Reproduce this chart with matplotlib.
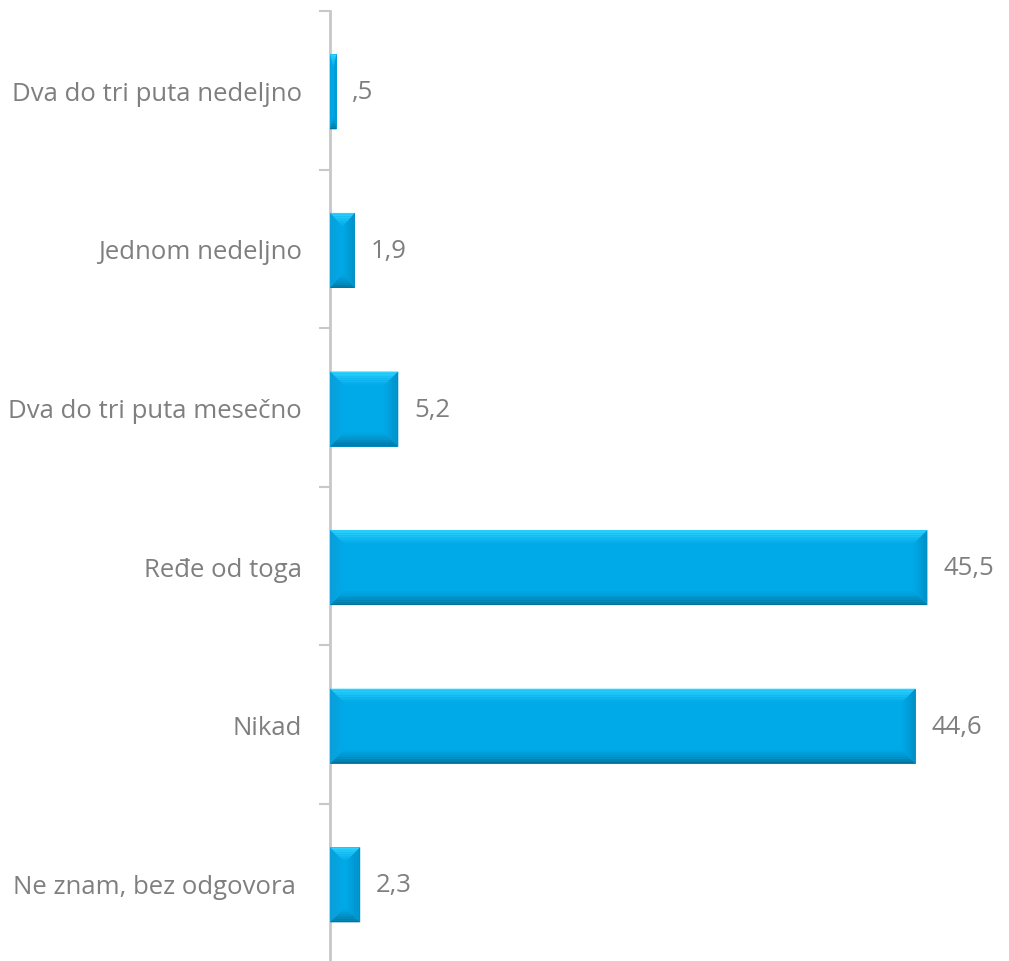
#!/usr/bin/env python3

import numpy as np
from matplotlib import pyplot as plt
from matplotlib.patches import Polygon, Rectangle
from matplotlib.colors import to_rgb

categories = ["Dva do tri puta nedeljno", "Jednom nedeljno", "Dva do tri puta mesečno",
              "Ređe od toga", "Nikad", "Ne znam, bez odgovora "]
values = [0.5, 1.9, 5.2, 45.5, 44.6, 2.3]
value_labels = [",5", "1,9", "5,2", "45,5", "44,6", "2,3"]

plt.rcParams['font.family'] = ['Open Sans', 'DejaVu Sans']

fig = plt.figure(figsize=(10.09, 9.62), dpi=100)
step = 158.6
ax_h = 6 * step
ax = fig.add_axes([330 / 1009, (962 - 12 - ax_h) / 962, 670 / 1009, ax_h / 962])

px_x = 13.13  # pixels per data unit
xmax = 670 / px_x
ax.set_xlim(0, xmax)
ax.set_ylim(len(categories) - 0.5, -0.5)

bar_h = 75 / step
main = np.array(to_rgb("#00A9E8"))
edges = {
    "top": np.array(to_rgb("#30D4FF")),
    "bot": np.array(to_rgb("#00698F")),
    "left": np.array(to_rgb("#0A9ED8")),
    "right": np.array(to_rgb("#008DC2")),
}

bx = 14 / px_x
by = 14 / step
nband = 8


def mix(c, t):
    return tuple(c * (1 - t) + main * t)


for i, v in enumerate(values):
    yc = i + 1.5 / step
    y0 = yc - bar_h / 2
    y1 = yc + bar_h / 2
    dx = min(bx, v / 2)
    ax.add_patch(Rectangle((0, y0), v, bar_h, color=tuple(main), lw=0, zorder=3))
    for k in range(nband):
        a = k / nband
        b = (k + 1) / nband
        t = (a + b) / 2
        xa, xb = dx * a, dx * b
        ya, yb = by * a, by * b
        # top (inverted axis: y0 is the visual top)
        ax.add_patch(Polygon([(xa, y0 + ya), (v - xa, y0 + ya), (v - xb, y0 + yb), (xb, y0 + yb)],
                             closed=True, color=mix(edges["top"], t), lw=0, zorder=4))
        ax.add_patch(Polygon([(xa, y1 - ya), (v - xa, y1 - ya), (v - xb, y1 - yb), (xb, y1 - yb)],
                             closed=True, color=mix(edges["bot"], t ** 0.7), lw=0, zorder=4))
        ax.add_patch(Polygon([(xa, y0 + ya), (xb, y0 + yb), (xb, y1 - yb), (xa, y1 - ya)],
                             closed=True, color=mix(edges["left"], t), lw=0, zorder=4))
        ax.add_patch(Polygon([(v - xa, y0 + ya), (v - xb, y0 + yb), (v - xb, y1 - yb), (v - xa, y1 - ya)],
                             closed=True, color=mix(edges["right"], t), lw=0, zorder=4))
    ax.text(v + 1.2, yc, value_labels[i], ha="left", va="center",
            fontsize=18.5, color="#7F7F7F")

ax.set_yticks(range(len(categories)))
ax.set_yticklabels(categories, fontsize=18.5, color="#7F7F7F")
ax.tick_params(axis="y", which="major", length=0, pad=20)
ax.set_yticks(np.arange(-0.5, len(categories), 1.0), minor=True)
ax.tick_params(axis="y", which="minor", length=8, width=1.5, color="#C8C8C8")
ax.set_xticks([])

for s in ["top", "right", "bottom"]:
    ax.spines[s].set_visible(False)
ax.spines["left"].set_color("#C8C8C8")
ax.spines["left"].set_linewidth(2)

fig.savefig("out.png", dpi=100)
